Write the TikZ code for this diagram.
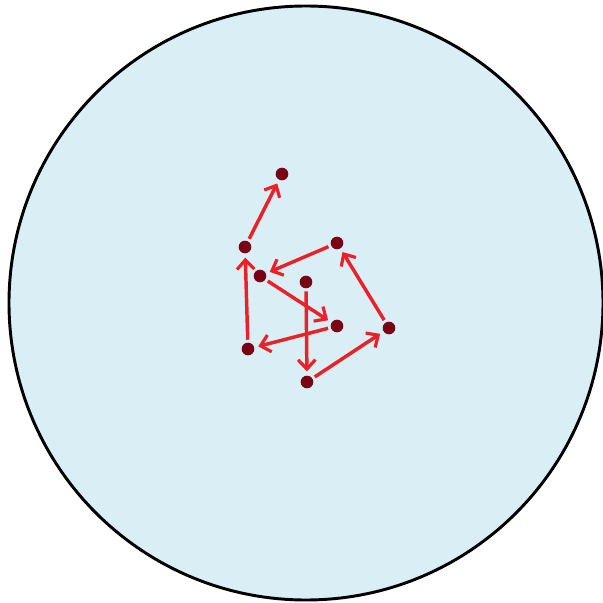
\documentclass[tikz,border=0pt]{standalone}
\usetikzlibrary{arrows.meta}
\definecolor{bgblue}{RGB}{217,239,245}
\definecolor{dotred}{RGB}{122,0,22}
\definecolor{arrred}{RGB}{236,32,40}
\begin{document}
\begin{tikzpicture}[x=0.75pt,y=-0.75pt,
  dot/.style={circle,fill=dotred,inner sep=0pt,minimum size=9.5pt},
  stepar/.style={draw=arrred,line width=2.6pt,shorten >=3pt,shorten <=2pt,
    -{Straight Barb[length=7pt,width=13pt,line width=2.4pt]}}]
\useasboundingbox (0,0) rectangle (603,603);
\draw[fill=bgblue,line width=2.2pt] (306,303) circle (297);
\node[dot] (p1) at (306,282) {};
\node[dot] (p2) at (307,382) {};
\node[dot] (p3) at (389,328) {};
\node[dot] (p4) at (337,243) {};
\node[dot] (p5) at (260,276) {};
\node[dot] (p6) at (337,326) {};
\node[dot] (p7) at (248,349) {};
\node[dot] (p8) at (245,247) {};
\node[dot] (p9) at (282,174) {};
\draw[stepar] (p1) -- (p2);
\draw[stepar] (p2) -- (p3);
\draw[stepar] (p3) -- (p4);
\draw[stepar] (p4) -- (p5);
\draw[stepar] (p5) -- (p6);
\draw[stepar] (p6) -- (p7);
\draw[stepar] (p7) -- (p8);
\draw[stepar] (p8) -- (p9);
\end{tikzpicture}
\end{document}
